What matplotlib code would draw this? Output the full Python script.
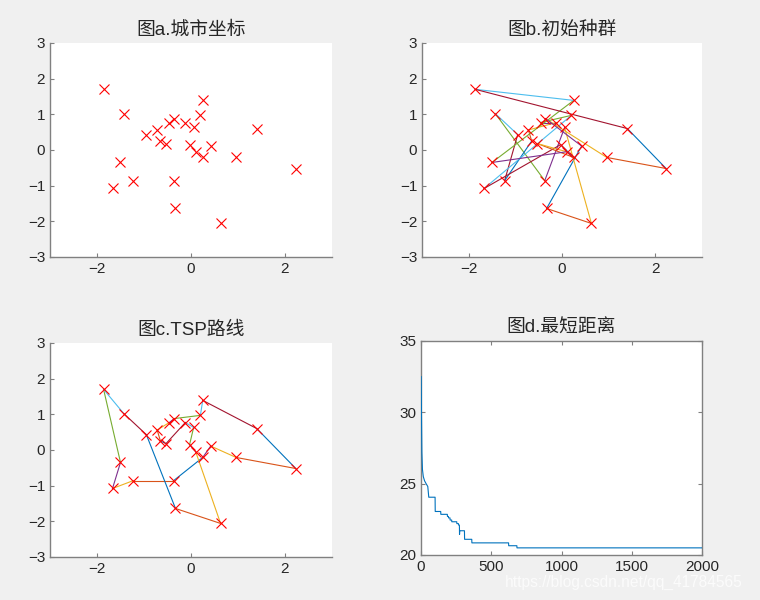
import numpy as np
import matplotlib
matplotlib.use('Agg')
import matplotlib.pyplot as plt

plt.rcParams['font.family'] = ['Liberation Sans', 'Noto Sans CJK SC', 'DejaVu Sans']

# 城市坐标
city_x = [-1.86, -1.43, -0.95, -0.33, 0.63, 0.10, -0.03, 0.056, -0.12, -0.53, -0.65, -0.72, -0.46,
          -0.355, 0.20, 0.25, 1.40, 2.23, 0.96, 0.42, 0.25, -0.37, -1.23, -1.67, -1.50]
city_y = [1.70, 1.02, 0.43, -1.64, -2.06, -0.05, 0.15, 0.63, 0.77, 0.18, 0.25, 0.56, 0.77,
          0.88, 0.97, 1.39, 0.60, -0.52, -0.21, 0.11, -0.21, -0.86, -0.86, -1.08, -0.35]

# 初始种群中的一条路线 / 最优路线
init_route = [19, 3, 4, 7, 21, 1, 2, 22, 10, 11, 8, 12, 14, 23, 6, 20, 9, 5, 24, 15, 0, 16, 17, 18, 13]
best_route = [20, 21, 22, 23, 24, 0, 1, 2, 3, 4, 5, 6, 7, 8, 9, 10, 11, 12, 13, 14, 15, 16, 17, 18, 19]

# 每代最短距离
gen = [1, 3, 6, 10, 16, 25, 36, 48, 55, 100, 101, 140, 141, 187, 188, 195, 196, 206, 207, 218,
       219, 254, 255, 266, 267, 273, 274, 275, 276, 309, 310, 361, 362, 623, 624, 682, 683, 2000]
dist = [32.5, 30.0, 27.2, 26.0, 25.5, 25.2, 25.0, 24.8, 24.05, 24.05, 23.05, 23.05, 22.85, 22.85,
        22.7, 22.7, 22.6, 22.6, 22.45, 22.45, 22.33, 22.33, 22.2, 22.2, 22.1, 22.1, 21.45, 21.7,
        21.7, 21.7, 21.1, 21.1, 20.85, 20.85, 20.65, 20.65, 20.5, 20.5]

mcolors = ['#0072BD', '#D95319', '#EDB120', '#7E2F8E', '#77AC30', '#4DBEEE', '#A2142F']
axcol = '#808080'
txtcol = '#262626'

fig = plt.figure(figsize=(7.6, 6), dpi=100, facecolor='#f0f0f0')


def style(ax, box=False):
    for s in ['top', 'right']:
        ax.spines[s].set_visible(box)
    for s in ax.spines.values():
        s.set_color(axcol)
        s.set_linewidth(1.0)
    ax.tick_params(direction='in', length=3, width=0.8, colors=axcol, labelcolor=txtcol,
                   labelsize=11, top=box, right=box)


def city_axes(rect, title):
    ax = fig.add_axes(rect)
    ax.set_xlim(-3, 3)
    ax.set_ylim(-3, 3)
    ax.set_xticks([-2, 0, 2])
    ax.set_yticks([-3, -2, -1, 0, 1, 2, 3])
    ax.set_title(title, fontsize=13.5, color=txtcol, pad=6)
    style(ax)
    return ax


def draw_route(ax, route):
    n = len(route)
    for k in range(n):
        i = route[k]
        j = route[(k + 1) % n]
        ax.plot([city_x[i], city_x[j]], [city_y[i], city_y[j]], color=mcolors[k % 7], lw=0.8)
    ax.plot(city_x, city_y, 'rx', ms=7, mew=0.8, zorder=5)


ax1 = city_axes([0.0658, 0.5717, 0.371, 0.3567], '图a.城市坐标')
ax1.plot(city_x, city_y, 'rx', ms=7, mew=0.8)

ax2 = city_axes([0.5553, 0.5717, 0.3684, 0.3567], '图b.初始种群')
draw_route(ax2, init_route)

ax3 = city_axes([0.0658, 0.0717, 0.371, 0.3567], '图c.TSP路线')
draw_route(ax3, best_route)

ax4 = fig.add_axes([0.554, 0.075, 0.3697, 0.3567])
ax4.plot(gen, dist, color=mcolors[0], lw=0.8, zorder=3)
ax4.set_xlim(0, 2000)
ax4.set_ylim(20, 35)
ax4.set_xticks([0, 500, 1000, 1500, 2000])
ax4.set_yticks([20, 25, 30, 35])
ax4.set_title('图d.最短距离', fontsize=13.5, color=txtcol, pad=6)
style(ax4, box=True)

# 水印
fig.text(0.664, 0.022, 'https://blog.csdn.net/qq_41784565', fontsize=11.2, color='white', alpha=0.75)

fig.savefig('out.png', dpi=100, facecolor=fig.get_facecolor())
